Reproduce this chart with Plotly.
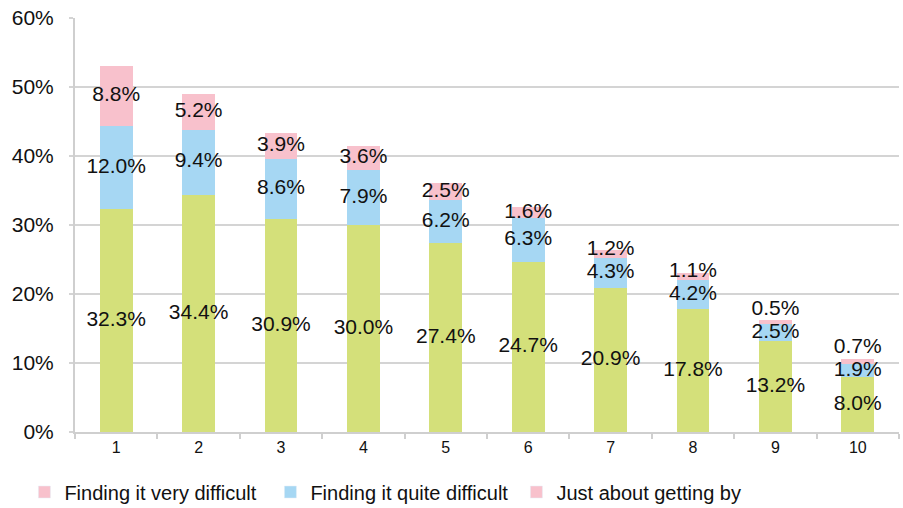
import plotly.graph_objects as go

categories = ["1", "2", "3", "4", "5", "6", "7", "8", "9", "10"]
just_getting_by = [32.3, 34.4, 30.9, 30.0, 27.4, 24.7, 20.9, 17.8, 13.2, 8.0]
quite_difficult = [12.0, 9.4, 8.6, 7.9, 6.2, 6.3, 4.3, 4.2, 2.5, 1.9]
very_difficult = [8.8, 5.2, 3.9, 3.6, 2.5, 1.6, 1.2, 1.1, 0.5, 0.7]
legend_names = ["Finding it very difficult", "Finding it quite difficult", "Just about getting by"]
y_ticks = [0, 10, 20, 30, 40, 50, 60]

GREEN = "#d4e07a"
BLUE = "#a6d7f3"
PINK = "#f8c1cc"
FONT = "Liberation Sans, Arial, sans-serif"

fig = go.Figure()
for vals, col in [(just_getting_by, GREEN), (quite_difficult, BLUE), (very_difficult, PINK)]:
    fig.add_trace(go.Bar(x=categories, y=vals, marker=dict(color=col, line=dict(width=0)),
                         width=0.4, showlegend=False, hoverinfo="skip"))

# label positions: segment centres, with small top labels nudged up to avoid overlap
lab_x, lab_y, lab_t = [], [], []
for i, c in enumerate(categories):
    g, b, p = just_getting_by[i], quite_difficult[i], very_difficult[i]
    gy = g / 2
    by = g + b / 2
    py = max(g + b + p / 2, by + 3.3)
    for yy, v in [(gy, g), (by, b), (py, p)]:
        lab_x.append(c); lab_y.append(yy); lab_t.append(f"{v:.1f}%")
fig.add_trace(go.Scatter(x=lab_x, y=lab_y, text=lab_t, mode="text", showlegend=False,
                         textfont=dict(family=FONT, size=21, color="#111111"), hoverinfo="skip"))

for name, col in zip(legend_names, [PINK, BLUE, PINK]):
    fig.add_trace(go.Bar(x=[None], y=[None], name=name, marker=dict(color=col)))

fig.update_layout(
    barmode="stack",
    width=903, height=508,
    margin=dict(l=75, r=4, t=18, b=76, autoexpand=False),
    plot_bgcolor="white", paper_bgcolor="white",
    font=dict(family=FONT, size=17, color="#111111"),
    legend=dict(orientation="h", x=-0.0614, xanchor="left", y=-0.145, yanchor="middle",
                font=dict(size=20, family=FONT), itemwidth=30, tracegroupgap=0,
                entrywidth=201, entrywidthmode="pixels",
                traceorder="normal"),
    xaxis=dict(type="category", categoryorder="array", categoryarray=categories,
               showline=True, linecolor="#cfcfcf", linewidth=2,
               ticks="outside", tickson="boundaries", tickcolor="#cfcfcf", ticklen=5, tickwidth=2,
               tickfont=dict(size=16), showgrid=False, range=[-0.5, 9.5]),
    yaxis=dict(range=[0, 60], tickvals=y_ticks, ticktext=[f"{t}%" for t in y_ticks],
               showgrid=True, gridcolor="#d4d4d4", gridwidth=2,
               showline=True, linecolor="#cfcfcf", linewidth=2,
               ticks="outside", ticklen=4, tickcolor="#d4d4d4", tickwidth=2,
               ticklabelstandoff=11,
               tickfont=dict(size=21), zeroline=False),
)

fig.write_html("out.html", config={"displayModeBar": False},
               post_script="document.body.style.margin='0';document.body.style.overflow='hidden';")
